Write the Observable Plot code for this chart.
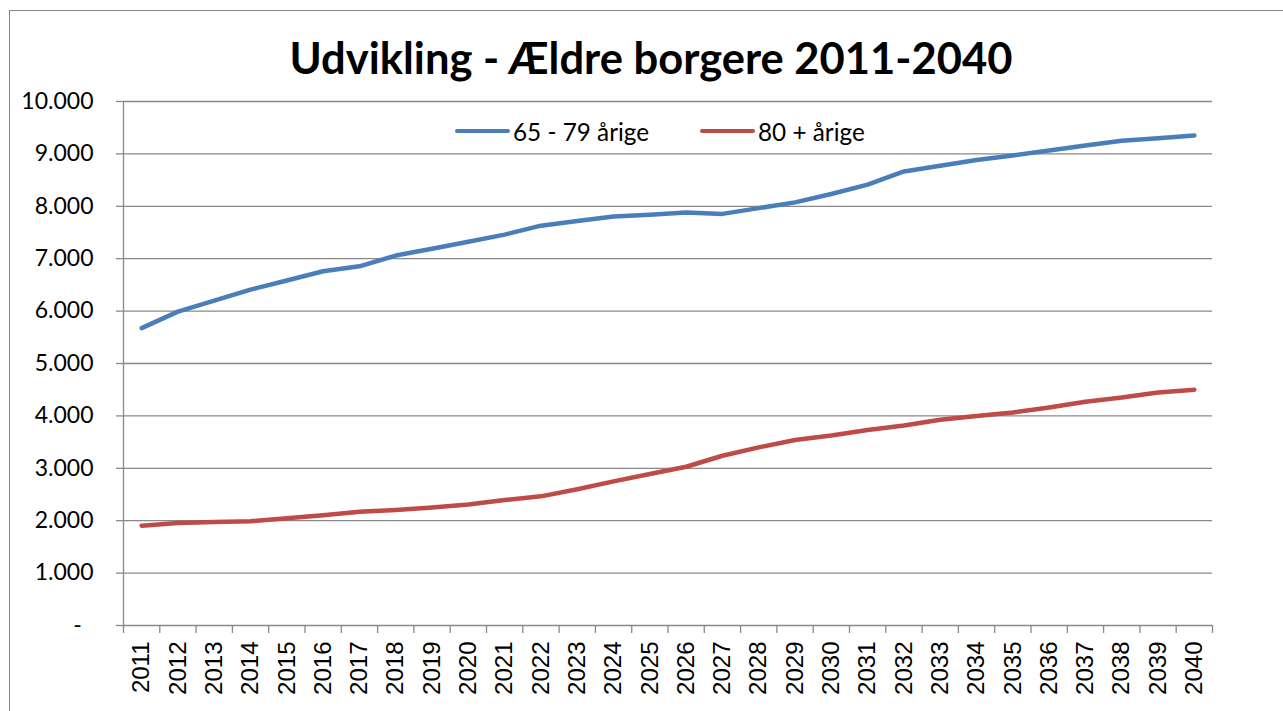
<!DOCTYPE html>
<html>
<head>
<meta charset="utf-8">
<script src="https://cdn.jsdelivr.net/npm/d3@7"></script>
<script src="https://cdn.jsdelivr.net/npm/@observablehq/plot@0.6"></script>
<style>
  body { margin: 0; background: #fff; }
  #wrap { position: relative; width: 1283px; height: 711px; overflow: hidden; background: #fff; }
  #chart { position: absolute; left: 0; top: 0; }
  #frame { position: absolute; left: 9px; top: 10px; width: 3000px; height: 3000px;
           border-left: 1.5px solid #868686; border-top: 1.5px solid #868686; pointer-events: none; }
  #title { position: absolute; left: 0; width: 1302px; top: 36px; text-align: center;
           font-family: Lato, sans-serif; font-weight: 700; font-size: 43.5px; line-height: 43.5px; color: #000; }
  .leg { position: absolute; top: 118px; height: 26px; display: flex; align-items: center;
         font-family: Lato, sans-serif; font-size: 24.3px; color: #000; white-space: nowrap; }
  .sw { width: 55px; height: 4.5px; border-radius: 2.5px; margin-right: 3px; }
</style>
</head>
<body>
<div id="wrap">
  <div id="chart"></div>
  <div id="title"></div>
  <div id="legend"></div>
  <div id="frame"></div>
</div>
<script>
const title = "Udvikling - Ældre borgere 2011-2040";
const years = [2011, 2012, 2013, 2014, 2015, 2016, 2017, 2018, 2019, 2020,
               2021, 2022, 2023, 2024, 2025, 2026, 2027, 2028, 2029, 2030,
               2031, 2032, 2033, 2034, 2035, 2036, 2037, 2038, 2039, 2040];
const seriesNames = ["65 - 79 årige", "80 + årige"];
const seriesColors = ["#4A7EBB", "#BE4B48"];
const age65to79 = [5675, 5990, 6200, 6410, 6585, 6760, 6855, 7060, 7190, 7325,
                   7460, 7630, 7720, 7805, 7840, 7880, 7855, 7965, 8075, 8235,
                   8415, 8665, 8775, 8885, 8970, 9065, 9160, 9250, 9300, 9350];
const age80plus = [1905, 1955, 1975, 1990, 2045, 2105, 2170, 2205, 2250, 2310,
                   2395, 2465, 2600, 2750, 2890, 3030, 3240, 3400, 3540, 3625,
                   3730, 3815, 3925, 4000, 4065, 4160, 4270, 4350, 4445, 4500];
const yTicks = [0, 1000, 2000, 3000, 4000, 5000, 6000, 7000, 8000, 9000, 10000];

const data = [
  ...years.map((y, i) => ({year: y, value: age65to79[i], series: seriesNames[0]})),
  ...years.map((y, i) => ({year: y, value: age80plus[i], series: seriesNames[1]}))
];
// category boundaries (ticks between categories)
const boundaries = [years[0] - 0.5, ...years.map(y => y + 0.5)];

const loc = d3.formatLocale({decimal: ",", thousands: ".", grouping: [3], currency: ["", ""]});
const fmt = loc.format(",");
const yFormat = d => d === 0 ? "-\u00a0\u00a0" : fmt(d);

const grid = "#898989";
const chart = Plot.plot({
  width: 1283,
  height: 711,
  marginLeft: 123,
  marginRight: 71,
  marginTop: 101,
  marginBottom: 86,
  style: {background: "transparent", overflow: "visible"},
  x: {type: "linear", domain: [years[0] - 0.5, years[years.length - 1] + 0.5]},
  y: {domain: [0, 10000]},
  color: {domain: seriesNames, range: seriesColors},
  marks: [
    Plot.ruleY(yTicks, {stroke: grid, strokeWidth: 1.3}),
    Plot.ruleX([years[0] - 0.5], {stroke: grid, strokeWidth: 1.3}),
    Plot.axisY({ticks: yTicks, tickSize: 7, tickPadding: 23, tickFormat: yFormat, label: null,
                stroke: grid, strokeWidth: 1.3, fill: "#000", fontSize: 23, fontFamily: "Lato"}),
    Plot.axisX({ticks: boundaries, tickSize: 8, tickFormat: () => "", label: null,
                stroke: grid, strokeWidth: 1.3}),
    Plot.axisX({ticks: years, tickSize: 0, tickPadding: 16, tickRotate: -90, textAnchor: "end",
                tickFormat: d => String(d), label: null, fill: "#000",
                fontSize: 24, fontFamily: "Liberation Sans"}),
    Plot.line(data, {x: "year", y: "value", stroke: "series", strokeWidth: 4.5,
                     strokeLinecap: "round", strokeLinejoin: "round"})
  ]
});
document.getElementById("chart").appendChild(chart);
document.getElementById("title").textContent = title;

const legendPos = [455, 700];
const legend = document.getElementById("legend");
seriesNames.forEach((name, i) => {
  const item = document.createElement("div");
  item.className = "leg";
  item.style.left = legendPos[i] + "px";
  const sw = document.createElement("div");
  sw.className = "sw";
  sw.style.background = seriesColors[i];
  const t = document.createElement("span");
  t.textContent = name;
  item.appendChild(sw);
  item.appendChild(t);
  legend.appendChild(item);
});
</script>
</body>
</html>
